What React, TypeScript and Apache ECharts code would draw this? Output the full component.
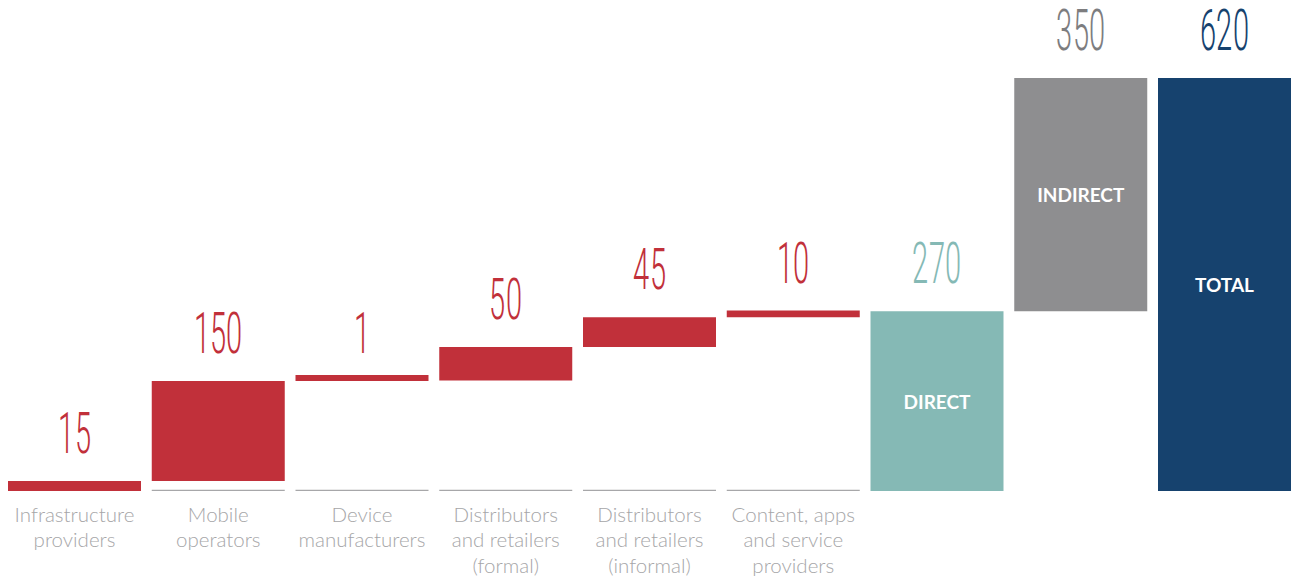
import React, { useEffect, useRef } from "react";
import * as echarts from "echarts";

// ---- data ----
const categories = [
  "Infrastructure\nproviders",
  "Mobile\noperators",
  "Device\nmanufacturers",
  "Distributors\nand retailers\n(formal)",
  "Distributors\nand retailers\n(informal)",
  "Content, apps\nand service\nproviders",
  "",
  "",
  "",
];
const contributions = [15, 150, 1, 50, 45, 10];
const directValue = 270;
const indirectValue = 350;
const totalValue = 620;
const valueLabels = ["15", "150", "1", "50", "45", "10", "270", "350", "620"];
const insideLabels = ["", "", "", "", "", "", "DIRECT", "INDIRECT", "TOTAL"];
const baselineMarks = [2, 2, 2, 2, 2, 2, null, null, null];

// ---- styles ----
const RED = "#C1303A";
const TEAL = "#85B9B5";
const GREY = "#8E8E90";
const NAVY = "#16426E";
const barColors = [RED, RED, RED, RED, RED, RED, TEAL, GREY, NAVY];
const labelColors = [RED, RED, RED, RED, RED, RED, TEAL, "#7D7D7F", NAVY];

const fontCss = `
@font-face {
  font-family: "ValueDigits";
  src: local("Roboto Light"), local("Roboto-Light"), local("Roboto");
  font-weight: 300;
  ascent-override: 75%;
  descent-override: 5%;
  line-gap-override: 0%;
}
`;

export default function App() {
  const ref = useRef<HTMLDivElement>(null);
  useEffect(() => {
    if (!ref.current) return;
    const chart = echarts.init(ref.current, undefined, { renderer: "svg" });

    const bases: number[] = [];
    const values: number[] = [];
    let cum = 0;
    contributions.forEach((v) => {
      bases.push(cum);
      values.push(v);
      cum += v;
    });
    bases.push(0, directValue, 0);
    values.push(directValue, indirectValue, totalValue);
    const tops = values.map((v, i) => v + bases[i]);

    chart.setOption({
      animation: false,
      grid: { left: 2.625, top: 78, width: 1293.75, height: 413 },
      xAxis: {
        type: "category",
        data: categories,
        axisLine: { show: false },
        axisTick: { show: false },
        axisLabel: {
          interval: 0,
          color: "#A6A6A8",
          fontFamily: "Lato",
          fontSize: 20.5,
          fontWeight: 300,
          lineHeight: 25.5,
          margin: 10,
        },
      },
      yAxis: { type: "value", min: 0, max: 620, show: false, splitLine: { show: false } },
      series: [
        {
          type: "bar",
          name: "baseline",
          data: baselineMarks,
          barWidth: 133,
          barGap: "-100%",
          itemStyle: { color: "#A7A7A9" },
          silent: true,
          z: 1,
        },
        {
          type: "bar",
          name: "base",
          stack: "w",
          data: bases,
          barWidth: 133,
          barGap: "-100%",
          itemStyle: { color: "transparent" },
          silent: true,
          z: 2,
        },
        {
          type: "bar",
          name: "value",
          stack: "w",
          barWidth: 133,
          barGap: "-100%",
          barMinHeight: 6,
          z: 3,
          data: values.map((v, i) => ({
            value: v,
            itemStyle: { color: barColors[i] },
            label: {
              show: insideLabels[i] !== "",
              position: "inside",
              formatter: insideLabels[i],
              color: "#FFFFFF",
              fontFamily: "Lato",
              fontWeight: "bold",
              fontSize: 19,
            },
          })),
        },
        {
          type: "custom",
          name: "labels",
          silent: true,
          z: 10,
          data: tops.map((t, i) => [i, t]),
          renderItem: (params: any, api: any) => {
            const i = api.value(0);
            const t = api.value(1);
            const p = api.coord([i, t]);
            return {
              type: "text",
              x: p[0],
              y: p[1] - 48,
              scaleX: 0.5,
              style: {
                text: valueLabels[i],
                fill: labelColors[i],
                fontFamily: "ValueDigits, Roboto",
                fontWeight: 300,
                fontSize: 58,
                lineHeight: 44,
                align: "center",
                verticalAlign: "middle",
              },
            };
          },
        },
      ],
    });
    return () => chart.dispose();
  }, []);
  return (
    <div style={{ position: "absolute", left: 0, top: 0, width: 1292, height: 578, overflow: "hidden" }}>
      <style>{fontCss}</style>
      <div ref={ref} style={{ width: 1300, height: 578 }} />
    </div>
  );
}
